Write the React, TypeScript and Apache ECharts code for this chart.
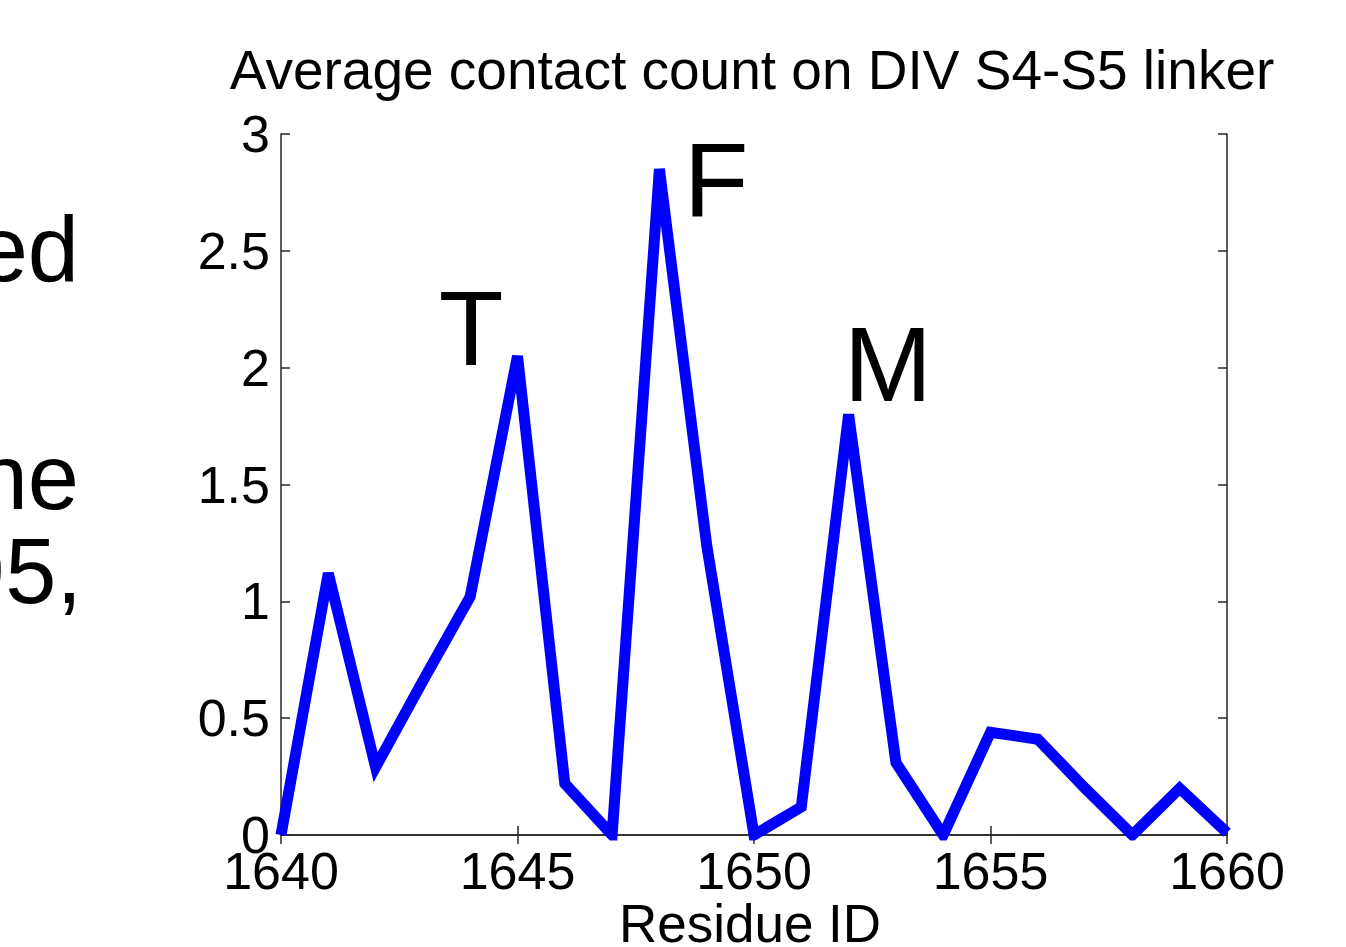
import React, { useEffect, useRef } from "react";
import * as echarts from "echarts";

const residues = [1640, 1641, 1642, 1643, 1644, 1645, 1646, 1647, 1648, 1649, 1650, 1651, 1652, 1653, 1654, 1655, 1656, 1657, 1658, 1659, 1660];
const contacts = [0, 1.12, 0.29, 0.66, 1.02, 2.05, 0.22, 0, 2.85, 1.24, 0, 0.12, 1.8, 0.31, 0, 0.44, 0.41, 0.2, 0, 0.2, 0.01];
const xTicks = [1640, 1645, 1650, 1655, 1660];
const yTicks = [0, 0.5, 1, 1.5, 2, 2.5, 3];
const titleText = "Average contact count on DIV S4-S5 linker";
const xName = "Residue ID";
const peakLabels = ["T", "F", "M"];
const sideFragments = ["ed", "ne", "95,"];

const FONT = "'Liberation Sans', Arial, Helvetica, sans-serif";

export default function App() {
  const ref = useRef<HTMLDivElement>(null);
  useEffect(() => {
    if (!ref.current) return;
    const chart = echarts.init(ref.current, null, { renderer: "svg" });
    const axisCommon = {
      type: "value" as const,
      axisLine: { show: true, lineStyle: { color: "#262626", width: 1.5 } },
      axisTick: { show: true, inside: true, length: 9, lineStyle: { color: "#262626", width: 1.5 } },
      splitLine: { show: false },
    };
    const peakPos = [
      [471, 328],
      [716, 180],
      [888, 364],
    ];
    const fragPos = [
      [79, 249],
      [79, 477],
      [82, 571],
    ];
    chart.setOption({
      animation: false,
      backgroundColor: "#ffffff",
      textStyle: { fontFamily: FONT },
      grid: { left: 281, top: 134, width: 946, height: 701, containLabel: false },
      xAxis: [
        {
          ...axisCommon,
          position: "bottom",
          min: xTicks[0],
          max: xTicks[xTicks.length - 1],
          interval: 5,
          axisLabel: { show: true, color: "#000", fontSize: 52, fontFamily: FONT, margin: 10, formatter: (v: number) => String(v) },
        },
        {
          ...axisCommon,
          position: "top",
          min: xTicks[0],
          max: xTicks[xTicks.length - 1],
          interval: 5,
          axisLabel: { show: false },
        },
      ],
      yAxis: [
        {
          ...axisCommon,
          position: "left",
          min: yTicks[0],
          max: yTicks[yTicks.length - 1],
          interval: 0.5,
          axisLabel: { show: true, color: "#000", fontSize: 52, fontFamily: FONT, margin: 11, formatter: (v: number) => String(v) },
        },
        {
          ...axisCommon,
          position: "right",
          min: yTicks[0],
          max: yTicks[yTicks.length - 1],
          interval: 0.5,
          axisLabel: { show: false },
        },
      ],
      series: [
        {
          type: "line",
          data: residues.map((r, i) => [r, contacts[i]]),
          showSymbol: false,
          symbol: "none",
          clip: true,
          lineStyle: { color: "#0000ff", width: 11, join: "miter" },
        },
      ],
      graphic: [
        {
          type: "text",
          x: 752,
          y: 70,
          style: { text: titleText, fontSize: 55, fontFamily: FONT, fill: "#000", textAlign: "center", textVerticalAlign: "middle" },
        },
        {
          type: "text",
          x: 750,
          y: 923,
          style: { text: xName, fontSize: 53, fontFamily: FONT, fill: "#000", textAlign: "center", textVerticalAlign: "middle" },
        },
        ...peakLabels.map((t, i) => ({
          type: "text",
          x: peakPos[i][0],
          y: peakPos[i][1],
          style: { text: t, fontSize: 106, fontFamily: FONT, fill: "#000", textAlign: "center", textVerticalAlign: "middle" },
        })),
        ...sideFragments.map((t, i) => ({
          type: "text",
          x: fragPos[i][0],
          y: fragPos[i][1],
          style: { text: t, fontSize: 92, fontFamily: FONT, fill: "#000", textAlign: "right", textVerticalAlign: "middle" },
        })),
      ],
    });
    return () => chart.dispose();
  }, []);
  return <div ref={ref} style={{ position: "absolute", left: 0, top: 0, width: 1346, height: 947 }} />;
}
